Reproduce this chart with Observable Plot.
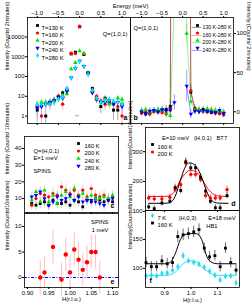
<!DOCTYPE html>
<html><head><meta charset="utf-8">
<script src="https://cdn.jsdelivr.net/npm/d3@7"></script>
<script src="https://cdn.jsdelivr.net/npm/@observablehq/plot@0.6"></script>
<style>
html,body{margin:0;padding:0;background:#fff;}
#wrap{position:relative;width:252px;height:306px;overflow:hidden;}
#wrap svg{position:absolute;left:0;top:0;}
</style></head><body><div id="wrap"></div>
<script>
// ---------------- DATA ----------------
// panels a & b : energy transfer (meV)
const energy = [-1.0,-0.9,-0.8,-0.7,-0.6,-0.5,-0.4,-0.3,-0.2,-0.1,0.0,0.1,0.2,0.3,0.4,0.5,0.6,0.7,0.8,0.9,1.0];
const aT130 = [2,4,1,5,6,10,15,23,1400,1700,33000,1300,160,25,9,3,8,5,2,2,4];
const aT160 = [3,1,4,4,6,10,4,20,1500,1450,35000,1400,140,17,10,6,4,5,4,3,1];
const aT200 = [4,5,5,5,7,8,11,13,240,500,2000,1500,150,20,7,5,7,4,5,8,7];
const aT240 = [2.5,3,4,5,6,9,8,18,85,260,600,330,140,15,7,5,5,6,4,5,3];
const aT280 = [4,4,4,4,5,7,9,25,85,280,600,330,125,20,8,5,6,7,6,5,4];
const aE130 = [1.5,2,1,2.2,2.4,3,4,5,37,41,180,36,13,5,3,1.7,2.8,2.2,1.4,1.4,2];
const aE160 = [1.7,1,2,2,2.4,3,2,4.5,39,38,190,37,12,4,3,2.4,2,2.2,2,1.7,1];
const aE200 = [2,2.2,2.2,2.2,2.6,2.8,3.3,3.6,15,22,45,39,12,4.5,2.6,2.2,2.6,2,2.2,2.8,2.6];
const aE240 = [1.6,1.7,2,2.2,2.4,3,2.8,4.2,9,16,24,18,12,3.9,2.6,2.2,2.2,2.4,2,2.2,1.7];
const aE280 = [2,2,2,2,2.2,2.6,3,5,9,17,24,18,11,4.5,2.8,2.2,2.4,2.6,2.4,2.2,2];
const aLabels = ["T=130 K","T=160 K","T=200 K","T=240 K","T=280 K"];
const aTicksX = [-1.0,-0.5,0.0,0.5,1.0];
const aTicksY = [1,10,100,1000,10000];

const b130 = [0,-3,-2,1,0,2,3,7,1400,1700,33000,1100,25,4,2,3,0,-1,0,-2,-3];
const b160 = [-2,0,-3,0,1,-1,-3,2,1500,1450,35000,1300,27,3,2,0,1,0,-2,-1,-4];
const b200 = [2,3,0,1,3,2,-2,-5,145,230,1400,100,13,2,3,1,4,3,2,1,0];
const b240 = [0,-2,1,2,0,3,1,3,12,null,null,33,-3,1,0,2,1,0,-1,2,-2];
const bE130 = [4,4,4,4,4,4,5,8,0,0,0,0,8,5,4,4,4,4,4,4,4];
const bE160 = [4,4,4,4,4,4,5,6,0,0,0,0,9,5,4,4,4,4,4,4,4];
const bE200 = [4,4,4,4,4,4,5,6,0,0,0,12,6,5,4,4,4,4,4,4,4];
const bE240 = [4,4,4,4,4,4,5,6,10,0,0,20,6,5,4,4,4,4,4,4,4];
const bLabels = ["130 K-280 K","160 K-280 K","200 K-280 K","240 K-280 K"];
const bTicksY = [0,50,100];

// panel c : SPINS, Q=(H,0,1), E=1 meV
const cH = [0.91,0.92,0.93,0.94,0.95,0.96,0.97,0.98,0.99,1.00,1.01,1.02,1.03,1.04,1.05,1.06,1.07,1.08,1.09,1.10];
const c160 = [7,6,7,8,6,9,7,7,8,6,9,8,5,9,8,10,9,8,9,8];
const c200 = [6,10,13,12,11,13,12,17,15,13,15,12,15,11,16,12,11,12,10,11];
const c240 = [9,14,8,15,8,12,7,12,14,11,16,11,13,10,12,10,10,11,10,12];
const c280 = [11,12,14,10,6,8,11,9,10,12,9,11,8,9,9,8,7,6,9,10];
const cErr = [3,3,3,3,3,3,3,3,3,3,3,3,3,3,3,3,3,3,3,3];
const cLabels = ["160 K","200 K","240 K","280 K"];
const cTicksY = [10,20,30,40];

// panel e : SPINS 1 meV difference
const eH = [0.93,0.94,0.96,0.98,0.99,1.00,1.01,1.02,1.03,1.04,1.05,1.06,1.07];
const eV = [0,1,6,-0.4,4.5,1,5.5,3.5,1.5,3,5,5,0];
const eErr = [3.3,3.2,3.3,3.2,3.3,3.2,3.3,3.3,3.2,3.2,3.3,3.3,3.2];
const eTicksX = [0.90,0.95,1.00,1.05,1.10];
const eTicksY = [0,5,10];

// panel d : BT7, E=10 meV (H,0,1)
const dH = [0.84,0.861,0.89,0.92,0.94,0.961,0.98,0.999,1.017,1.036,1.055,1.073,1.092,1.11,1.136];
const d160 = [115,109,128,134,180,170,266,246,246,214,168,134,112,112,153];
const d200 = [145,142,142,147,173,190,262,224,224,207,153,145,145,145,173];
const dErr160 = [10,10,10,10,11,11,13,12,12,12,11,10,10,10,11];
const dErr200 = [11,11,11,11,11,12,13,13,13,12,11,11,11,11,12];
const dFitH = [0.84,0.90,0.92,0.94,0.96,0.98,0.99,1.00,1.01,1.02,1.04,1.06,1.08,1.10,1.14];
const dFit160 = [127,127,130,150,205,252,262,262,258,250,215,165,135,128,127];
const dFit200 = [150,150,153,170,205,228,236,238,236,232,210,180,160,152,150];
const dTicksY = [100,200,300];

// panel f : HB1, E=18 meV (H,0,3)
const fH = [0.83,0.85,0.87,0.89,0.91,0.93,0.95,0.97,0.99,1.01,1.03,1.05,1.07,1.09,1.11,1.13,1.15,1.17];
const f160 = [110,103,103,113,108,110,155,158,160,163,167,135,120,122,103,135,110,97];
const f7 = [87,88,87,91,92,97,103,122,113,110,107,102,95,88,80,86,87,75];
const fErr160 = [9,9,9,9,9,9,10,10,10,10,10,9,9,9,9,9,9,9];
const fErr7 = [5,5,5,5,5,5,5,6,5,5,5,5,5,5,5,5,5,5];
const fFitH = [0.83,0.90,0.92,0.94,0.96,0.97,1.00,1.02,1.04,1.05,1.06,1.08,1.10,1.17];
const fFit160 = [108,108,110,125,150,157,160,160,150,135,120,110,108,108];
const fFit7 = [88,88,89,93,103,108,113,111,103,99,96,90,88,88];
const fTicksX = [0.9,1.0,1.1];
const fTicksY = [100,150];

// ---------------- DRAWING ----------------
const W = 252, H = 306;
const FONT = "Liberation Sans, Arial, Helvetica, sans-serif";
const triDown = {draw(ctx, size){const y = Math.sqrt(size/(Math.sqrt(3)*3)); ctx.moveTo(0, y*2); ctx.lineTo(-Math.sqrt(3)*y, -y); ctx.lineTo(Math.sqrt(3)*y, -y); ctx.closePath();}};
const wrap = document.getElementById("wrap");

function rows(xs, vs, es){ const out=[]; xs.forEach((x,i)=>{ if(vs[i]!=null) out.push({x, v:vs[i], e: es? es[i]:0}); }); return out; }

function panel(box, scales, marks){
  const [x0,x1,y0,y1] = box;
  const p = Plot.plot({
    width: W, height: H,
    marginLeft: x0, marginRight: W-x1, marginTop: y0, marginBottom: H-y1,
    style: {background:"transparent", fontFamily: FONT, fontSize:"6px", overflow:"visible", color:"#000"},
    ...scales,
    marks
  });
  wrap.appendChild(p);
}
const tick = (o) => ({tickSize:2, tickPadding:1, label:null, fontSize:6, ...o});
const noLabel = () => "";
function legendEntries(labels, colors, symbols, opt){
  const m = [];
  labels.forEach((lab,i)=>{
    const dy = opt.dy0 + i*opt.step;
    if (opt.line) m.push(Plot.text(["\u2014\u2014"], {frameAnchor: opt.anchor, dx: opt.dx-1, dy, text:d=>d, fill: colors[i], fontSize:5, textAnchor:"middle"}));
    m.push(Plot.dot([0], {frameAnchor: opt.anchor, dx: opt.dx, dy, symbol: symbols[i], r: opt.r||1.6, fill: colors[i], stroke: "none"}));
    m.push(Plot.text([lab], {frameAnchor: opt.anchor, dx: opt.dx + opt.gap, dy, text:d=>d, textAnchor:"start", fontSize: opt.fs||5.8, fill:"#000"}));
  });
  return m;
}
const fmt1 = d3.format(".1f");

// ---- panel a ----
{
  const series = [
    {v:aT130, e:aE130, c:"#000000", ec:"#999999", s:"square"},
    {v:aT160, e:aE160, c:"#ff0000", ec:"#ff9999", s:"circle"},
    {v:aT200, e:aE200, c:"#00e000", ec:"#99ee99", s:"triangle"},
    {v:aT240, e:aE240, c:"#0000ff", ec:"#9999ff", s:triDown},
    {v:aT280, e:aE280, c:"#00e5ff", ec:"#99f0ff", s:"diamond"}
  ];
  const marks = [];
  series.forEach(s=>{
    const r = rows(energy, s.v, s.e);
    marks.push(Plot.ruleX(r, {x:"x", y1:d=>Math.max(d.v-d.e,0.3), y2:d=>d.v+d.e, stroke:s.ec, strokeWidth:0.8, clip:true}));
  });
  series.forEach(s=>{
    marks.push(Plot.dot(rows(energy, s.v), {x:"x", y:"v", symbol:s.s, r:1.7, fill:s.c, stroke:"none", clip:true}));
  });
  marks.push(Plot.frame({stroke:"#000", strokeWidth:0.8}));
  marks.push(Plot.axisX(tick({anchor:"top", ticks:aTicksX, tickFormat:fmt1})));
  marks.push(Plot.axisX(tick({anchor:"bottom", ticks:aTicksX, tickFormat:noLabel})));
  marks.push(Plot.axisY(tick({anchor:"left", ticks:aTicksY, tickFormat:d=>String(d)})));
  marks.push(Plot.text(["Energy (meV)"], {frameAnchor:"top-right", dy:-14, text:d=>d, textAnchor:"middle", fontSize:5.8}));
  marks.push(Plot.text(["Q=(1,0,1)"], {frameAnchor:"top-right", dx:-3, dy:14, text:d=>d, textAnchor:"end", fontSize:5.8}));
  marks.push(Plot.text(["Intensity (Counts/ 2minutes)"], {frameAnchor:"left", dx:-20, text:d=>d, rotate:-90, fontSize:5.5}));
  marks.push(Plot.text(["a"], {frameAnchor:"bottom-right", dx:-3, dy:-4, text:d=>d, fontWeight:"bold", fontSize:7}));
  marks.push(Plot.text(["\u2194"], {frameAnchor:"bottom", dx:-2, dy:-7, text:d=>d, fontSize:6}));
  marks.push(...legendEntries(aLabels, series.map(s=>s.c), series.map(s=>s.s), {anchor:"top-left", dx:10, dy0:8, step:7.5, gap:4}));
  panel([27,130,17,123], {x:{domain:[-1.23,1.2]}, y:{type:"log", domain:[0.42,97000]}}, marks);
}

// ---- panel b ----
{
  const series = [
    {v:b130, e:bE130, c:"#000000", ec:"#888888", s:"square"},
    {v:b160, e:bE160, c:"#ff0000", ec:"#ff8888", s:"circle"},
    {v:b200, e:bE200, c:"#00e000", ec:"#88ee88", s:"triangle"},
    {v:b240, e:bE240, c:"#0000ff", ec:"#8888ff", s:triDown}
  ];
  const marks = [];
  series.forEach(s=>{
    marks.push(Plot.ruleX(rows(energy, s.v, s.e).filter(d=>d.e>0), {x:"x", y1:d=>d.v-d.e, y2:d=>d.v+d.e, stroke:s.ec, strokeWidth:0.8, clip:true}));
  });
  series.forEach(s=>{
    marks.push(Plot.line(energy.map((x,i)=>({x, v:s.v[i]})), {x:"x", y:"v", stroke:s.c, strokeWidth:0.6, strokeOpacity:0.7, clip:true, defined:d=>d.v!=null}));
  });
  series.forEach(s=>{
    marks.push(Plot.dot(rows(energy, s.v), {x:"x", y:"v", symbol:s.s, r:1.6, fill:s.c, stroke:"none", clip:true}));
  });
  marks.push(Plot.frame({stroke:"#000", strokeWidth:0.8}));
  marks.push(Plot.axisX(tick({anchor:"top", ticks:aTicksX, tickFormat:fmt1})));
  marks.push(Plot.axisX(tick({anchor:"bottom", ticks:aTicksX, tickFormat:noLabel})));
  marks.push(Plot.axisY(tick({anchor:"right", ticks:bTicksY})));
  marks.push(Plot.text(["Q=(1,0,1)"], {frameAnchor:"top-left", dx:3, dy:8, text:d=>d, textAnchor:"start", fontSize:5.8}));
  marks.push(Plot.text(["Intensity (Counts/ 2minutes)"], {frameAnchor:"right", dx:15, text:d=>d, rotate:90, fontSize:5.5}));
  marks.push(Plot.text(["b"], {frameAnchor:"bottom-left", dx:3, dy:-4, text:d=>d, fontWeight:"bold", fontSize:7}));
  marks.push(...legendEntries(bLabels, series.map(s=>s.c), series.map(s=>s.s), {anchor:"top-right", dx:-36, dy0:8, step:7.5, gap:5, line:true, fs:5.2}));
  panel([130,233,17,123], {x:{domain:[-1.27,1.24]}, y:{domain:[-15,120.5]}}, marks);
}

// ---- panel c ----
{
  const series = [
    {v:c160, c:"#000000", ec:"#aaaaaa", s:"square"},
    {v:c200, c:"#ff0000", ec:"#ffaaaa", s:"circle"},
    {v:c240, c:"#00e000", ec:"#aaeeaa", s:"triangle"},
    {v:c280, c:"#0000ff", ec:"#aaaaff", s:triDown}
  ];
  const marks = [];
  series.forEach(s=>{
    marks.push(Plot.ruleX(rows(cH, s.v, cErr), {x:"x", y1:d=>d.v-d.e, y2:d=>d.v+d.e, stroke:s.ec, strokeWidth:0.6}));
  });
  series.forEach(s=>{
    marks.push(Plot.dot(rows(cH, s.v), {x:"x", y:"v", symbol:s.s, r:1.6, fill:s.c, stroke:"none"}));
  });
  marks.push(Plot.frame({stroke:"#000", strokeWidth:0.8}));
  marks.push(Plot.axisX(tick({anchor:"bottom", ticks:eTicksX, tickFormat:noLabel})));
  marks.push(Plot.axisY(tick({anchor:"left", ticks:cTicksY})));
  marks.push(Plot.text(["Q=(H,0,1)"], {frameAnchor:"top-left", dx:9, dy:12, text:d=>d, textAnchor:"start", fontSize:5.8}));
  marks.push(Plot.text(["E=1 meV"], {frameAnchor:"top-left", dx:9, dy:19, text:d=>d, textAnchor:"start", fontSize:5.8}));
  marks.push(Plot.text(["SPINS"], {frameAnchor:"top-left", dx:9, dy:32, text:d=>d, textAnchor:"start", fontSize:5.8}));
  marks.push(Plot.text(["Intensity (Counts/ 10minutes)"], {frameAnchor:"left", dx:-17, text:d=>d, rotate:-90, fontSize:5.5}));
  marks.push(Plot.text(["c"], {frameAnchor:"bottom-right", dx:-4, dy:-5, text:d=>d, fontWeight:"bold", fontSize:7}));
  marks.push(...legendEntries(cLabels, series.map(s=>s.c), series.map(s=>s.s), {anchor:"top-left", dx:54, dy0:7, step:7.5, gap:6}));
  panel([24,118,136,212], {x:{domain:[0.893,1.114]}, y:{domain:[1.6,47.2]}}, marks);
}

// ---- panel e ----
{
  const r = rows(eH, eV, eErr);
  const marks = [
    Plot.ruleY([0], {y:d=>d, stroke:"#0000ff", strokeWidth:1, strokeDasharray:"3,1.5,1,1.5"}),
    Plot.ruleX(r, {x:"x", y1:d=>d.v-d.e, y2:d=>d.v+d.e, stroke:"#ffb0b0", strokeWidth:0.8}),
    Plot.dot(r, {x:"x", y:"v", r:2.2, fill:"#ff0000", stroke:"none"}),
    Plot.frame({stroke:"#000", strokeWidth:0.8}),
    Plot.axisX(tick({anchor:"bottom", ticks:eTicksX, tickFormat:d3.format(".2f")})),
    Plot.axisX(tick({anchor:"top", ticks:eTicksX, tickFormat:noLabel})),
    Plot.axisY(tick({anchor:"left", ticks:eTicksY})),
    Plot.text(["H(r.l.u.)"], {frameAnchor:"bottom", dy:13, text:d=>d, fontSize:5.8}),
    Plot.text(["SPINS"], {frameAnchor:"top-right", dx:-10, dy:6, text:d=>d, textAnchor:"end", fontSize:5.8}),
    Plot.text(["1 meV"], {frameAnchor:"top-right", dx:-10, dy:14, text:d=>d, textAnchor:"end", fontSize:5.8}),
    Plot.text(["Intensity (Counts/10minutes)"], {frameAnchor:"left", dx:-17, text:d=>d, rotate:-90, fontSize:5.5}),
    Plot.text(["e"], {frameAnchor:"bottom-right", dx:-4, dy:-4, text:d=>d, fontWeight:"bold", fontSize:7})
  ];
  panel([24,118,213,287], {x:{domain:[0.893,1.114]}, y:{domain:[-1.96,12.55]}}, marks);
}

// ---- panel d ----
{
  const marks = [
    Plot.line(dFitH.map((x,i)=>({x, v:dFit200[i]})), {x:"x", y:"v", stroke:"#ff0000", strokeWidth:1, curve:"monotone-x"}),
    Plot.line(dFitH.map((x,i)=>({x, v:dFit160[i]})), {x:"x", y:"v", stroke:"#000000", strokeWidth:1, curve:"monotone-x"}),
    Plot.ruleX(rows(dH, d200, dErr200), {x:"x", y1:d=>d.v-d.e, y2:d=>d.v+d.e, stroke:"#ff0000", strokeWidth:0.6}),
    Plot.ruleX(rows(dH, d160, dErr160), {x:"x", y1:d=>d.v-d.e, y2:d=>d.v+d.e, stroke:"#000000", strokeWidth:0.6}),
    Plot.dot(rows(dH, d200), {x:"x", y:"v", r:1.7, fill:"#ff0000", stroke:"none"}),
    Plot.dot(rows(dH, d160), {x:"x", y:"v", symbol:"square", r:1.6, fill:"#000000", stroke:"none"}),
    Plot.frame({stroke:"#000", strokeWidth:0.8}),
    Plot.axisX(tick({anchor:"bottom", ticks:fTicksX, tickFormat:noLabel})),
    Plot.axisY(tick({anchor:"left", ticks:dTicksY})),
    Plot.text(["E=10 meV   (H,0,1)   BT7"], {frameAnchor:"top", dx:2, dy:8, text:d=>d, fontSize:5.8}),
    Plot.text(["Intensity(Counts/10minutes)"], {frameAnchor:"left", dx:-15, text:d=>d, rotate:-90, fontSize:5.5}),
    Plot.text(["d"], {frameAnchor:"bottom-right", dx:-4, dy:-5, text:d=>d, fontWeight:"bold", fontSize:7}),
    ...legendEntries(["160 K","200 K"], ["#000000","#ff0000"], ["square","circle"], {anchor:"top-left", dx:7, dy0:17, step:7.5, gap:5})
  ];
  panel([145,239,127,210], {x:{domain:[0.828,1.183]}, y:{domain:[103,381]}}, marks);
}

// ---- panel f ----
{
  const marks = [
    Plot.line(fFitH.map((x,i)=>({x, v:fFit7[i]})), {x:"x", y:"v", stroke:"#22ddee", strokeWidth:1, curve:"monotone-x"}),
    Plot.line(fFitH.map((x,i)=>({x, v:fFit160[i]})), {x:"x", y:"v", stroke:"#000000", strokeWidth:1, curve:"monotone-x"}),
    Plot.ruleX(rows(fH, f7, fErr7), {x:"x", y1:d=>d.v-d.e, y2:d=>d.v+d.e, stroke:"#22ddee", strokeWidth:0.6}),
    Plot.ruleX(rows(fH, f160, fErr160), {x:"x", y1:d=>d.v-d.e, y2:d=>d.v+d.e, stroke:"#000000", strokeWidth:0.6}),
    Plot.dot(rows(fH, f7), {x:"x", y:"v", symbol:"diamond", r:1.8, fill:"#22ddee", stroke:"none"}),
    Plot.dot(rows(fH, f160), {x:"x", y:"v", symbol:"square", r:1.6, fill:"#000000", stroke:"none"}),
    Plot.frame({stroke:"#000", strokeWidth:0.8}),
    Plot.axisX(tick({anchor:"bottom", ticks:fTicksX, tickFormat:fmt1})),
    Plot.axisY(tick({anchor:"left", ticks:fTicksY})),
    Plot.text(["(H,0,3)"], {frameAnchor:"top", dx:-5, dy:5, text:d=>d, fontSize:5.8}),
    Plot.text(["E=18 meV"], {frameAnchor:"top-right", dx:-4, dy:5, text:d=>d, textAnchor:"end", fontSize:5.8}),
    Plot.text(["HB1"], {frameAnchor:"top-right", dx:-22, dy:13, text:d=>d, textAnchor:"end", fontSize:5.8}),
    Plot.text(["H(r.l.u.)"], {frameAnchor:"bottom", dy:14, text:d=>d, fontSize:5.8}),
    Plot.text(["Intensity(Counts/6minutes)"], {frameAnchor:"left", dx:-15, text:d=>d, rotate:-90, fontSize:5.5}),
    Plot.text(["f"], {frameAnchor:"bottom-left", dx:4, dy:-5, text:d=>d, fontWeight:"bold", fontSize:7}),
    ...legendEntries(["7 K","160 K"], ["#22ddee","#000000"], ["diamond","square"], {anchor:"top-left", dx:7, dy0:5, step:7.5, gap:5})
  ];
  panel([145,239,210,287], {x:{domain:[0.828,1.183]}, y:{domain:[67,200]}}, marks);
}
</script></body></html>
